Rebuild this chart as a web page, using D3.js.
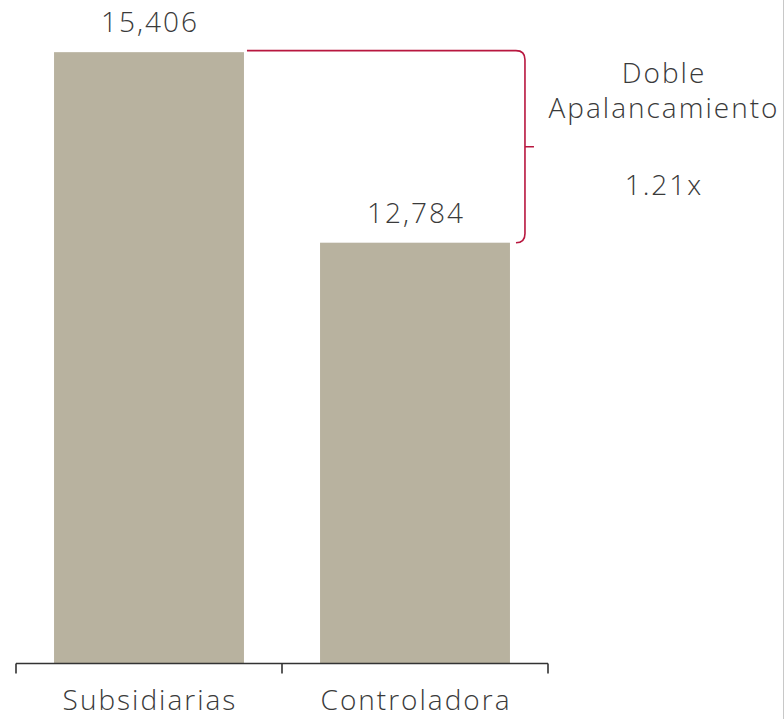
<!DOCTYPE html>
<html>
<head>
<meta charset="utf-8">
<script src="https://cdn.jsdelivr.net/npm/d3@7"></script>
<style>
  body { margin: 0; background: #fff; }
  svg { display: block; }
  text { font-family: "Open Sans", Lato, sans-serif; font-weight: 300; fill: #3a3a3a; letter-spacing: 2px; }
</style>
</head>
<body>
<div id="container"></div>
<script>
// chart data
var categories = ['Subsidiarias', 'Controladora'];
var values = [15406, 12784];
var valueLabels = ['15,406', '12,784'];
var noteLines = ['Doble', 'Apalancamiento'];
var ratioLabel = '1.21x';

var WIDTH = 784, HEIGHT = 719,
    BAR = '#b8b29f',
    BRACKET = '#b8173f',
    AXIS = '#333',
    FONT = '28px';

var svg = d3.select('#container').append('svg')
    .attr('width', WIDTH).attr('height', HEIGHT);

var x = d3.scaleBand().domain(categories)
    .range([16, 548]).paddingInner(0.286).paddingOuter(0.143);
var y = d3.scaleLinear().domain([7000, 16000]).range([663, 9]);

// bars
svg.append('g').selectAll('rect').data(values).enter().append('rect')
    .attr('x', function(d, i) { return x(categories[i]); })
    .attr('y', function(d) { return y(d); })
    .attr('width', x.bandwidth())
    .attr('height', function(d) { return y.range()[0] - y(d); })
    .attr('fill', BAR);

// value labels
svg.append('g').selectAll('text').data(values).enter().append('text')
    .attr('x', function(d, i) { return x(categories[i]) + x.bandwidth() / 2 + 1; })
    .attr('y', function(d) { return y(d) - 20; })
    .attr('text-anchor', 'middle')
    .style('font-size', FONT)
    .text(function(d, i) { return valueLabels[i]; });

// axis: line with ticks on the band edges
var base = y.range()[0] + 0.5;
var edges = [x.range()[0]].concat(categories.map(function(c) { return x(c) - x.step() * x.paddingInner() / 2 + x.step(); }));
edges[edges.length - 1] = x.range()[1];
var ax = svg.append('g').attr('stroke', AXIS).attr('stroke-width', 1.6);
ax.append('line').attr('x1', edges[0]).attr('x2', edges[edges.length - 1])
    .attr('y1', base).attr('y2', base);
ax.selectAll('.tick').data(edges).enter().append('line')
    .attr('x1', function(d) { return d; }).attr('x2', function(d) { return d; })
    .attr('y1', base).attr('y2', base + 10);

svg.append('g').selectAll('text').data(categories).enter().append('text')
    .attr('x', function(d) { return x(d) + x.bandwidth() / 2 + 1; })
    .attr('y', 710)
    .attr('text-anchor', 'middle')
    .style('font-size', FONT)
    .text(function(d) { return d; });

// bracket between the two bar tops
var yTop = y(values[0]) - 1.5, yBot = y(values[1]);
var bx = x(categories[1]) + x.bandwidth() + 15, r = 9;
var yMid = (yTop + yBot) / 2;
var p = d3.path();
p.moveTo(x(categories[0]) + x.bandwidth() + 3, yTop);
p.lineTo(bx - r, yTop);
p.quadraticCurveTo(bx, yTop, bx, yTop + r);
p.lineTo(bx, yBot - r);
p.quadraticCurveTo(bx, yBot, bx - r, yBot);
p.moveTo(bx, yMid);
p.lineTo(bx + 9, yMid);
svg.append('path').attr('d', p.toString())
    .attr('fill', 'none').attr('stroke', BRACKET).attr('stroke-width', 1.6);

// note text
var note = svg.append('g').attr('text-anchor', 'middle').style('font-size', FONT);
note.selectAll('text').data(noteLines).enter().append('text')
    .attr('x', 664).attr('y', function(d, i) { return 83 + i * 35; })
    .text(function(d) { return d; });
note.append('text').attr('x', 664).attr('y', 195).text(ratioLabel);

// right border
svg.append('line').attr('x1', WIDTH - 0.5).attr('x2', WIDTH - 0.5)
    .attr('y1', 0).attr('y2', HEIGHT).attr('stroke', '#c8c8c8');
</script>
</body>
</html>
